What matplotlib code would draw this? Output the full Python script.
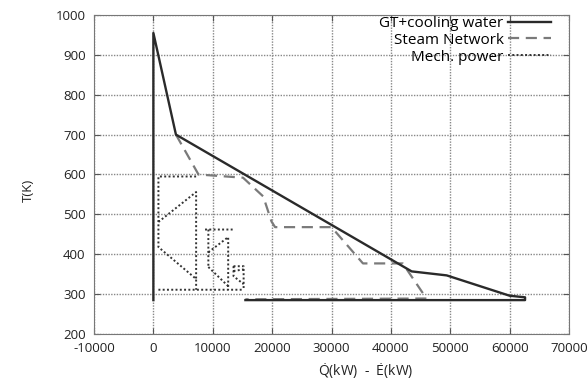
import numpy as np
import matplotlib
matplotlib.use("Agg")
import matplotlib.pyplot as plt

plt.rcParams['font.family'] = ['Open Sans', 'DejaVu Sans']
plt.rcParams['mathtext.fontset'] = 'custom'
plt.rcParams['mathtext.rm'] = 'Open Sans'
plt.rcParams['mathtext.it'] = 'Open Sans'

nan = np.nan
# GT + cooling water composite curve
gt_x = [0, 0, 3800, 43500, 49400, 60000, 62600, 62600, 15500]
gt_y = [285, 955, 700, 357, 347, 296, 292, 285, 285]

# Steam network curve
st_x = [3800, 7600, 15100, 18500, 19900, 20500, 30000, 35300, 42000, 46000, 15500]
st_y = [700, 600, 592, 545, 482, 468, 468, 377, 377, 289, 287]

# Mechanical power (segments separated by nan)
mp_x = [7200, 850, 850, 7200, 7200, nan,
        850, 7200, 7200, nan,
        850, 15200, nan,
        8700, 13650, nan,
        9260, 9260, nan,
        9260, 12600, 12600, nan,
        9260, 12600, nan,
        13500, 15200, 15200, nan,
        13500, 13500, 15200, nan,
        13500, 15200]
mp_y = [595, 595, 418, 338, 311, nan,
        481, 556, 338, nan,
        311, 311, nan,
        462, 462, nan,
        462, 368, nan,
        405, 443, 311, nan,
        368, 320, nan,
        370, 370, 311, nan,
        370, 345, 325, nan,
        358, 362]

xticks = list(range(-10000, 70001, 10000))
yticks = list(range(200, 1001, 100))

fig = plt.figure(figsize=(5.88, 3.85), dpi=100)
ax = fig.add_axes([94/588, 1-334/385, 475/588, 319/385])

ax.plot(gt_x, gt_y, color='#2a2a2a', lw=1.7, label='GT+cooling water', zorder=4)
ax.plot(st_x, st_y, color='#7a7a7a', lw=1.6, ls=(0, (5, 3)), label='Steam Network', zorder=3)
ax.plot(mp_x, mp_y, color='#333333', lw=1.4, ls=(0, (1, 1.2)), label='Mech. power', zorder=3)

ax.set_xlim(-10000, 70000)
ax.set_ylim(200, 1000)
ax.set_xticks(xticks)
ax.set_yticks(yticks)
ax.set_xticklabels([str(v) for v in xticks])
ax.tick_params(direction='in', length=4, width=0.8, color='#555555', labelsize=9.5, pad=6,
               top=True, right=True, labelcolor='#222222')
ax.grid(True, color='#888888', lw=1.0, ls=(0, (1, 1)))
for s in ax.spines.values():
    s.set_color('#777777')
    s.set_linewidth(0.8)

ax.set_xlabel(r'$\dot{\mathrm{Q}}$(kW)  -  $\dot{\mathrm{E}}$(kW)', fontsize=10, color='#222222')
ax.xaxis.set_label_coords((366-94)/475, -0.085)
ax.set_ylabel('T(K)', fontsize=9.5, color='#222222')
ax.yaxis.set_label_coords(-0.125, 0.45)

leg = ax.legend(loc='upper right', markerfirst=False, frameon=False, fontsize=11,
                handlelength=2.8, handletextpad=0.3, labelspacing=0.12,
                borderaxespad=0, borderpad=0,
                bbox_to_anchor=((551-94)/475, (334-16)/319))
for t in leg.get_texts():
    t.set_ha('right')

fig.savefig('out.png', dpi=100)
